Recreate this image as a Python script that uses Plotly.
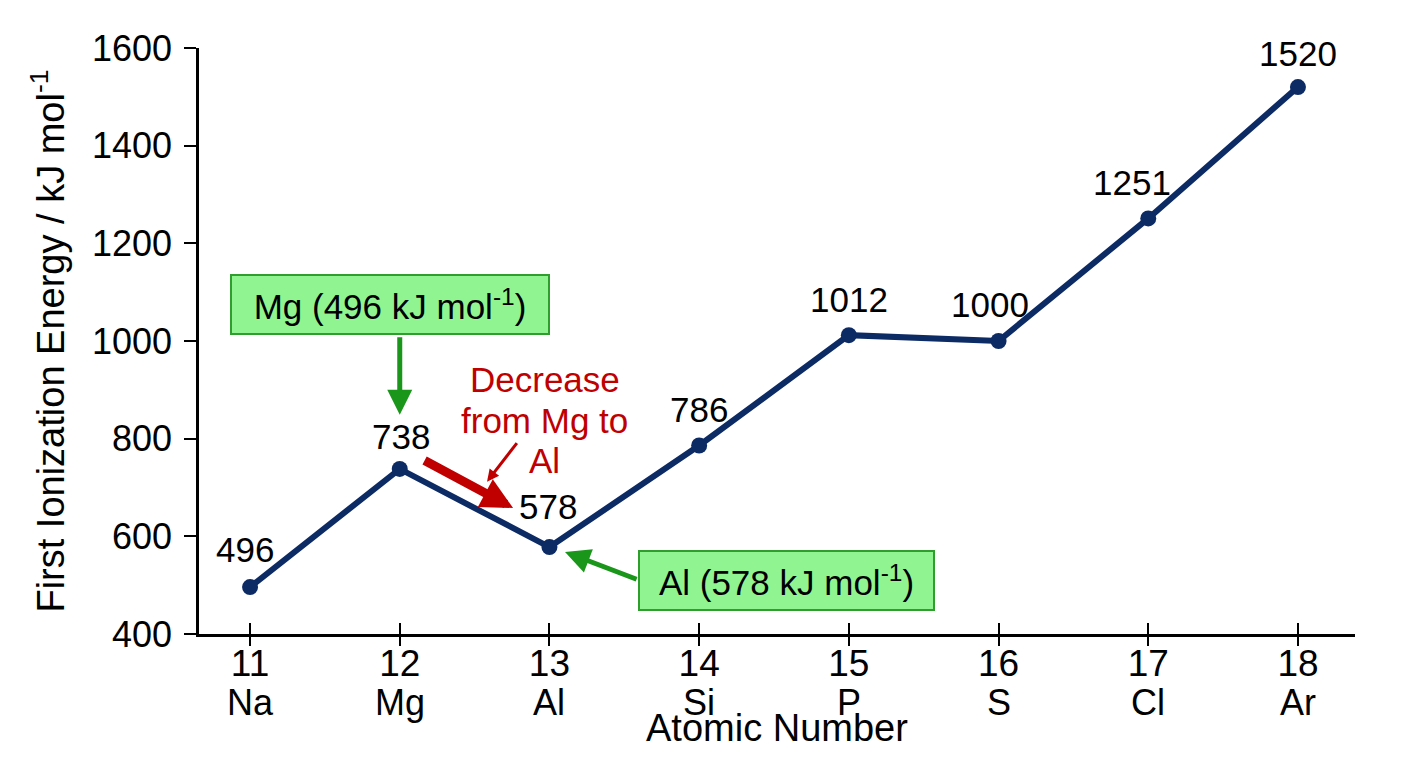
import plotly.graph_objects as go

# first ionization energies, period 3
atomic_numbers = [11, 12, 13, 14, 15, 16, 17, 18]
symbols = ["Na", "Mg", "Al", "Si", "P", "S", "Cl", "Ar"]
energies = [496, 738, 578, 786, 1012, 1000, 1251, 1520]
y_ticks = [400, 600, 800, 1000, 1200, 1400, 1600]

# small nudges (px) for the value labels, same as the original slide
label_dx = [-5, 1, -1, 0, 0, -9, -16, 0]
label_dy = [25, 20, 28, 24, 23, 24, 23, 21]

FONT = "Liberation Sans, Arial, sans-serif"
NAVY = "#0C2A64"
GREEN = "#1A961A"
BOX_FILL = "#90F590"
BOX_LINE = "#2F9E2F"
RED = "#C00000"

fig = go.Figure()

fig.add_trace(go.Scatter(
    x=atomic_numbers, y=energies, mode="lines+markers",
    line=dict(color=NAVY, width=6),
    marker=dict(color=NAVY, size=16),
    showlegend=False, hoverinfo="x+y",
))

# invisible copy on the overlay axis so the inner tick marks get drawn
fig.add_trace(go.Scatter(
    x=atomic_numbers, y=energies, mode="markers", xaxis="x2",
    marker=dict(opacity=0), showlegend=False, hoverinfo="skip",
))

annotations = []

# value labels above each point
for x, y, dx, dy in zip(atomic_numbers, energies, label_dx, label_dy):
    annotations.append(dict(
        x=x, y=y, text=str(y), showarrow=False,
        xanchor="center", yanchor="bottom", xshift=dx, yshift=dy - 9,
        font=dict(family=FONT, size=35, color="black"),
    ))

# element symbols under the atomic numbers
for x, s in zip(atomic_numbers, symbols):
    annotations.append(dict(
        x=x, y=0, yref="paper", text=s, showarrow=False,
        xanchor="center", yanchor="top", yshift=-46,
        font=dict(family=FONT, size=36, color="black"),
    ))

annotations.append(dict(
    x=0.5, y=0, xref="paper", yref="paper", text="Atomic Number",
    showarrow=False, xanchor="center", yanchor="top", yshift=-71,
    font=dict(family=FONT, size=38, color="black"),
))

# green call-out boxes
annotations.append(dict(
    x=11.935, y=1073.8, text="Mg (496 kJ mol<sup>-1</sup>)", showarrow=False,
    width=316, height=57, bgcolor=BOX_FILL, bordercolor=BOX_LINE,
    borderwidth=2, borderpad=0, font=dict(family=FONT, size=35, color="black"),
))
annotations.append(dict(
    x=14.584, y=509.7, text="Al (578 kJ mol<sup>-1</sup>)", showarrow=False,
    width=293, height=57, bgcolor=BOX_FILL, bordercolor=BOX_LINE,
    borderwidth=2, borderpad=0, font=dict(family=FONT, size=35, color="black"),
))

# arrows
def arrow(tip, tail, color, width, size):
    return dict(
        x=tip[0], y=tip[1], ax=tail[0], ay=tail[1], axref="x", ayref="y",
        text="", showarrow=True, arrowhead=2, arrowsize=size,
        arrowwidth=width, arrowcolor=color, standoff=0, startstandoff=0,
    )

annotations.append(arrow((12.0, 849), (12.0, 1011), GREEN, 5, 1))
annotations.append(arrow((13.104, 568), (13.592, 511), GREEN, 5, 1))
annotations.append(arrow((12.757, 658), (12.156, 757), RED, 9, 0.7))
annotations.append(arrow((12.583, 712), (12.790, 794), RED, 3, 0.8))

# red note, one line at a time to keep the tight line spacing
for line, y in zip(["Decrease", "from Mg to", "Al"], [921, 837, 755]):
    annotations.append(dict(
        x=12.97, y=y, text=line, showarrow=False, xanchor="center",
        yanchor="middle", font=dict(family=FONT, size=35, color=RED),
    ))

fig.update_layout(
    width=1408, height=768,
    margin=dict(l=199, r=53, t=48, b=134),
    paper_bgcolor="white", plot_bgcolor="white",
    font=dict(family=FONT, color="black"),
    xaxis=dict(
        range=[10.659, 18.381], tickvals=atomic_numbers,
        ticks="outside", ticklen=9, tickwidth=2, tickcolor="black",
        showline=True, linewidth=2.5, linecolor="black",
        showgrid=False, zeroline=False, ticklabelstandoff=-14,
        tickfont=dict(family=FONT, size=37),
    ),
    xaxis2=dict(
        range=[10.659, 18.381], tickvals=atomic_numbers, overlaying="x",
        anchor="y", side="bottom", ticks="inside", ticklen=11, tickwidth=2,
        tickcolor="black", showticklabels=False, showline=False,
        showgrid=False, zeroline=False,
    ),
    yaxis=dict(
        range=[400, 1600], tickvals=y_ticks,
        ticks="outside", ticklen=12, tickwidth=2, tickcolor="black",
        showline=True, linewidth=2.5, linecolor="black",
        showgrid=False, zeroline=False, ticklabelstandoff=5,
        tickfont=dict(family=FONT, size=36),
        title=dict(text="First Ionization Energy / kJ mol<sup>-1</sup>",
                   font=dict(family=FONT, size=38), standoff=16),
    ),
    annotations=annotations,
)

fig.write_html("out.html", config={"displayModeBar": False},
               post_script="document.body.style.margin='0';")
